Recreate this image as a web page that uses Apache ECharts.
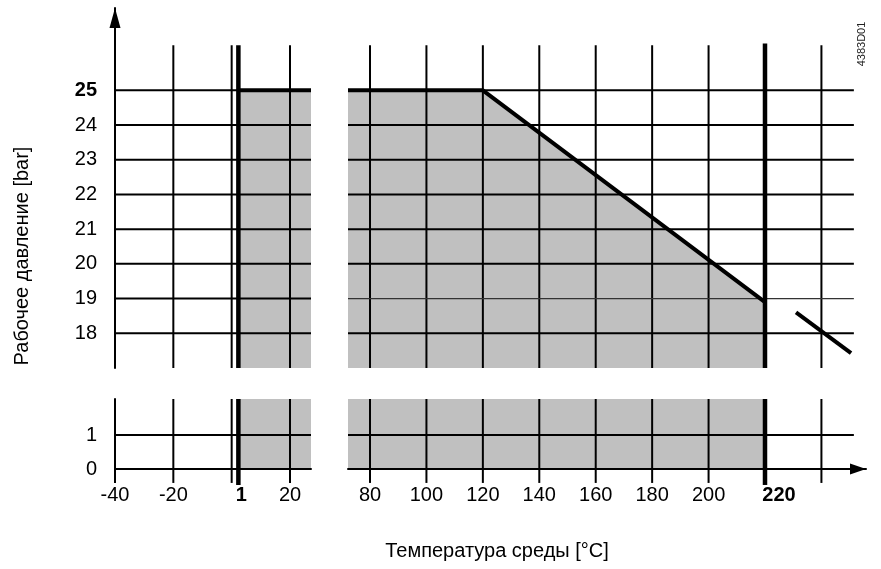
<!DOCTYPE html>
<html>
<head>
<meta charset="utf-8">
<script src="https://cdn.jsdelivr.net/npm/echarts@6/dist/echarts.min.js"></script>
<style>
  html, body { margin: 0; padding: 0; background: #fff; }
  #chart { width: 881px; height: 569px; }
</style>
</head>
<body>
<div id="chart"></div>
<script>
// tick values
const xTicksLeft = [-20, 0, 20];
const xTicksRight = [80, 100, 120, 140, 160, 180, 200, 240];
const xLabelsLeft = [-40, -20, 1, 20];
const xLabelsRight = [80, 100, 120, 140, 160, 180, 200, 220];
const yTicksTop = [18, 19, 20, 21, 22, 23, 24, 25];
const yTicksBottom = [0, 1];

// limit lines (temperature, pressure)
const minTempLine = 2.3;   // where the "1 °C" limit is drawn
const maxTempLine = 220;
const limitLeft = [[2.3, 25], [27.2, 25]];
const limitRight = [[72.2, 25], [120, 25], [220, 18.9]];
const limitBeyond = [[231, 18.6], [250.5, 17.43]];

// axis ranges of the four panels
const leftX = [-40, 27.2];
const rightX = [72.2, 255.8];
const topY = [17, 27.37];
const bottomY = [0, 2.06];
const gridTop = 26.3, tickBottom = -0.41, thickBottom = -0.47;

const FONT = "'Liberation Sans', Arial, sans-serif";
const grey = "#c0c0c0";

const chart = echarts.init(document.getElementById("chart"));

function seg(g, pts, width, z, color) {
  return {
    type: "line", xAxisIndex: g, yAxisIndex: g, data: pts,
    symbol: "none", silent: true, clip: false, animation: false, z: z,
    lineStyle: { color: color || "#000", width: width }
  };
}
function fill(g, pts) {
  return {
    type: "line", xAxisIndex: g, yAxisIndex: g, data: pts,
    symbol: "none", silent: true, animation: false, z: 1,
    lineStyle: { width: 0 },
    areaStyle: { color: grey, opacity: 1, origin: "start" }
  };
}

const series = [];
// grey areas
series.push(fill(0, limitLeft));
series.push(fill(1, limitRight));
series.push(fill(2, [[minTempLine, bottomY[1]], [leftX[1], bottomY[1]]]));
series.push(fill(3, [[rightX[0], bottomY[1]], [maxTempLine, bottomY[1]]]));

// vertical grid lines
xTicksLeft.forEach(v => {
  series.push(seg(0, [[v, topY[0]], [v, gridTop]], 2, 2));
  series.push(seg(2, [[v, tickBottom], [v, bottomY[1]]], 2, 2));
});
series.push(seg(2, [[leftX[0], tickBottom], [leftX[0], 0]], 2, 2));
xTicksRight.forEach(v => {
  series.push(seg(1, [[v, topY[0]], [v, gridTop]], 2, 2));
  series.push(seg(3, [[v, tickBottom], [v, bottomY[1]]], 2, 2));
});
// thick limit verticals
series.push(seg(0, [[minTempLine, topY[0]], [minTempLine, gridTop]], 4.5, 3));
series.push(seg(2, [[minTempLine, thickBottom], [minTempLine, bottomY[1]]], 4.5, 3));
series.push(seg(1, [[maxTempLine, topY[0]], [maxTempLine, gridTop + 0.05]], 4.5, 3));
series.push(seg(3, [[maxTempLine, thickBottom], [maxTempLine, bottomY[1]]], 4.5, 3));

// horizontal grid lines
yTicksTop.forEach(v => {
  series.push(seg(0, [[-43.8, v], [leftX[1], v]], 2, 2));
  series.push(seg(1, [[rightX[0], v], [251.5, v]], v === 19 ? 1.2 : 2, 2, v === 19 ? "#333" : "#000"));
});
yTicksBottom.forEach(v => {
  series.push(seg(2, [[-43.8, v], [leftX[1], v]], 2, 2));
  series.push(seg(3, [[rightX[0], v], [251.5, v]], 2, 2));
});

// pressure / temperature limit
series.push(seg(0, limitLeft, 4, 5));
series.push(seg(1, limitRight, 4, 5));
series.push(seg(1, limitBeyond, 4, 5));

const hidden = { show: false };
const labelStyle = { color: "#000", fontFamily: FONT, fontSize: 20 };
const bold = { fontWeight: "bold", fontFamily: FONT, fontSize: 20, color: "#000" };

const option = {
  animation: false,
  backgroundColor: "#fff",
  grid: [
    { left: 115, top: 8, width: 196, height: 360 },
    { left: 348, top: 8, width: 518, height: 360 },
    { left: 115, top: 399, width: 196, height: 70 },
    { left: 348, top: 399, width: 518, height: 70 }
  ],
  xAxis: [
    { type: "value", gridIndex: 0, min: leftX[0], max: leftX[1], axisLine: hidden, axisTick: hidden, axisLabel: hidden, splitLine: hidden },
    { type: "value", gridIndex: 1, min: rightX[0], max: rightX[1], axisLine: hidden, axisTick: hidden, axisLabel: hidden, splitLine: hidden },
    {
      type: "value", gridIndex: 2, min: leftX[0], max: leftX[1],
      axisLine: { show: true, lineStyle: { color: "#000", width: 2 } },
      axisTick: hidden, splitLine: hidden,
      axisLabel: Object.assign({
        margin: 16,
        customValues: xLabelsLeft.map(v => v === 1 ? minTempLine : v),
        formatter: v => v === minTempLine ? "{b|1}" : String(v),
        rich: { b: Object.assign({ padding: [0, 0, 0, 6] }, bold) }
      }, labelStyle)
    },
    {
      type: "value", gridIndex: 3, min: rightX[0], max: rightX[1],
      axisLine: { show: true, symbol: ["none", "triangle"], symbolSize: [11, 16], symbolOffset: [0, -8], lineStyle: { color: "#000", width: 2 } },
      axisTick: hidden, splitLine: hidden,
      axisLabel: Object.assign({
        margin: 16,
        customValues: xLabelsRight,
        formatter: v => v === maxTempLine ? "{b|220}" : String(v),
        rich: { b: Object.assign({ padding: [0, 0, 0, 28] }, bold) }
      }, labelStyle)
    }
  ],
  yAxis: [
    {
      type: "value", gridIndex: 0, min: topY[0], max: topY[1],
      axisLine: { show: true, onZero: false, symbol: ["none", "triangle"], symbolSize: [11, 20], symbolOffset: [0, -10], lineStyle: { color: "#000", width: 2 } },
      axisTick: hidden, splitLine: hidden,
      axisLabel: Object.assign({
        margin: 18,
        customValues: yTicksTop,
        formatter: v => v === 25 ? "{b|25}" : String(v),
        rich: { b: bold }
      }, labelStyle)
    },
    { type: "value", gridIndex: 1, min: topY[0], max: topY[1], axisLine: hidden, axisTick: hidden, axisLabel: hidden, splitLine: hidden },
    {
      type: "value", gridIndex: 2, min: bottomY[0], max: bottomY[1],
      axisLine: { show: true, onZero: false, lineStyle: { color: "#000", width: 2 } },
      axisTick: hidden, splitLine: hidden,
      axisLabel: Object.assign({ margin: 18, customValues: yTicksBottom }, labelStyle)
    },
    { type: "value", gridIndex: 3, min: bottomY[0], max: bottomY[1], axisLine: hidden, axisTick: hidden, axisLabel: hidden, splitLine: hidden }
  ],
  graphic: [
    {
      type: "text", x: 22, y: 256, rotation: Math.PI / 2,
      style: { text: "Рабочее давление [bar]", font: "20px " + FONT, fill: "#000", align: "center", verticalAlign: "middle", textAlign: "center", textVerticalAlign: "middle" }
    },
    {
      type: "text", x: 497, y: 551,
      style: { text: "Температура среды [°C]", font: "20px " + FONT, fill: "#000", align: "center", verticalAlign: "middle", textAlign: "center", textVerticalAlign: "middle" }
    },
    {
      type: "text", x: 862, y: 44, rotation: Math.PI / 2,
      style: { text: "4383D01", font: "11px " + FONT, fill: "#222", align: "center", verticalAlign: "middle", textAlign: "center", textVerticalAlign: "middle" }
    }
  ],
  series: series
};
chart.setOption(option);
</script>
</body>
</html>
